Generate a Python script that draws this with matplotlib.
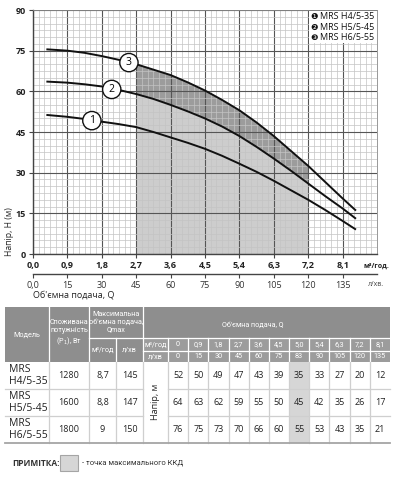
import numpy as np
import matplotlib
matplotlib.use("Agg")
import matplotlib.pyplot as plt
from matplotlib.patches import Rectangle

plt.rcParams['font.family'] = ['Open Sans', 'DejaVu Sans']

# --- дані кривих ---
q_curve = [0.35, 0.9, 1.35, 1.8, 2.25, 2.7, 3.15, 3.6, 4.05, 4.5, 4.95,
           5.4, 5.85, 6.3, 6.75, 7.2, 7.65, 8.1, 8.45]
h1 = [51.3, 50.6, 49.8, 48.8, 47.9, 46.8, 45.0, 43.0, 41.0, 38.8, 36.2,
      33.3, 30.3, 27.0, 23.5, 20.0, 16.2, 12.2, 9.0]
h2 = [63.6, 63.2, 62.6, 61.8, 60.5, 59.0, 57.2, 55.0, 52.6, 50.0, 47.0,
      43.5, 39.5, 35.2, 30.7, 26.0, 21.3, 16.8, 13.0]
h3 = [75.5, 75.0, 74.2, 73.0, 71.6, 70.0, 68.0, 66.0, 63.3, 60.3, 56.8,
      53.0, 48.5, 43.5, 38.0, 32.5, 26.5, 20.5, 16.0]

# позиції номерів на кривих
label_q = [1.54, 2.06, 2.51]
label_h = [49.2, 60.7, 70.6]

legend_names = ["MRS H4/5-35", "MRS H5/5-45", "MRS H6/5-55"]
legend_marks = ["\u2776", "\u2777", "\u2778"]

x_ticks = [0, 0.9, 1.8, 2.7, 3.6, 4.5, 5.4, 6.3, 7.2, 8.1]
x_ticklabels = ["0,0", "0,9", "1,8", "2,7", "3,6", "4,5", "5,4", "6,3", "7,2", "8,1"]
l_ticks = [0, 15, 30, 45, 60, 75, 90, 105, 120, 135]
l_ticklabels = ["0,0", "15", "30", "45", "60", "75", "90", "105", "120", "135"]
y_ticks = [0, 15, 30, 45, 60, 75, 90]

# --- дані таблиці ---
models = ["MRS\nH4/5-35", "MRS\nH5/5-45", "MRS\nH6/5-55"]
power = ["1280", "1600", "1800"]
qmax_m3 = ["8,7", "8,8", "9"]
qmax_l = ["145", "147", "150"]
q_m3 = ["0", "0,9", "1,8", "2,7", "3,6", "4,5", "5,0", "5,4", "6,3", "7,2", "8,1"]
q_l = ["0", "15", "30", "45", "60", "75", "83", "90", "105", "120", "135"]
head_values = [
    [52, 50, 49, 47, 43, 39, 35, 33, 27, 20, 12],
    [64, 63, 62, 59, 55, 50, 45, 42, 35, 26, 17],
    [76, 75, 73, 70, 66, 60, 55, 53, 43, 35, 21],
]
best_col = 6

W, H = 400, 480
fig = plt.figure(figsize=(W / 100, H / 100), dpi=100)

# --- графік ---
ax = fig.add_axes([33 / W, 1 - 254 / H, 344 / W, 244 / H])
ax.set_xlim(0, 9.0)
ax.set_ylim(0, 90)
ax.set_axisbelow(True)

q = np.array(q_curve)
a1, a2, a3 = np.array(h1), np.array(h2), np.array(h3)
zone = (q >= 2.7) & (q <= 7.2)
ax.fill_between(q[zone], 0, a3[zone], color='#cdcdcd', lw=0, zorder=0.2)
ax.fill_between(q[zone], a2[zone], a3[zone], color='#9c9c9c', lw=0, zorder=0.25)

for hh in (a1, a2, a3):
    ax.plot(q, hh, color='#111111', lw=1.4, zorder=2, solid_capstyle='butt')

for i in range(3):
    ax.text(label_q[i], label_h[i], str(i + 1), ha='center', va='center',
            fontsize=7.5, zorder=4,
            bbox=dict(boxstyle='circle,pad=0.35', fc='white', ec='#111111', lw=1.0))

ax.set_xticks(x_ticks)
ax.set_xticklabels(x_ticklabels, fontsize=6.5, fontweight='bold', color='#222222')
ax.set_xticks(np.arange(0, 9.01, 0.15), minor=True)
ax.set_yticks(y_ticks)
ax.set_yticklabels([str(v) for v in y_ticks], fontsize=6.5, fontweight='bold', color='#222222')
ax.set_yticks(np.arange(0, 90.1, 2.5), minor=True)
ax.grid(which='minor', color='#c4c4c4', lw=0.5)
ax.grid(which='major', color='#555555', lw=0.8)
ax.tick_params(which='minor', length=0)
ax.tick_params(which='major', length=3, width=0.8, color='#444444', pad=2)
for s in ('top', 'right'):
    ax.spines[s].set_color('#888888')
    ax.spines[s].set_linewidth(0.6)
for s in ('left', 'bottom'):
    ax.spines[s].set_color('#444444')
    ax.spines[s].set_linewidth(1.0)

sec = ax.secondary_xaxis(-20 / 244, functions=(lambda v: v * 1000 / 60,
                                               lambda v: v * 60 / 1000))
sec.set_xticks(l_ticks)
sec.set_xticklabels(l_ticklabels, fontsize=6.5, color='#333333')
sec.tick_params(length=3, width=0.8, color='#444444', pad=2)
sec.spines['bottom'].set_color('#444444')
sec.spines['bottom'].set_linewidth(1.0)

# полотно для таблиці та підписів у пікселях (поверх графіка)
tax = fig.add_axes([0, 0, 1, 1])
tax.set_xlim(0, W)
tax.set_ylim(H, 0)
tax.axis('off')

# легенда
tax.add_patch(Rectangle((309, 11), 68, 32, fc='white', ec='none', zorder=3))
for i in range(3):
    y = 16.5 + i * 10.5
    tax.text(314, y, legend_marks[i], fontsize=6, ha='center', va='center',
             family=['DejaVu Sans'], color='#111111', zorder=5)
    tax.text(320, y, legend_names[i], fontsize=6.5, ha='left', va='center',
             color='#111111', zorder=5)

tax.text(376, 266, "м³/год.", fontsize=5, fontweight='bold', ha='center', va='center', color='#222222')
tax.text(376, 285, "л/хв.", fontsize=5, ha='center', va='center', color='#444444')
tax.text(33, 295, "Об'ємна подача, Q", fontsize=6.5, ha='left', va='center', color='#222222')
tax.text(10, 232, "Напір, Н (м)", fontsize=6.2, ha='center', va='center', rotation=90, color='#222222')

# --- таблиця ---
narrow = ['Roboto', 'DejaVu Sans']
head_dark = '#8e8e8e'
head_light = '#9c9c9c'
x0, x1 = 5, 390
cols = [5, 49, 89, 116, 143, 168]
vw = (x1 - 168) / 11
vcols = [168 + k * vw for k in range(12)]
y_top, y_mid, y_sub, y_hb = 307, 338, 351, 362
rows = [362, 389, 416, 443]

tax.add_patch(Rectangle((x0, y_top), x1 - x0, y_hb - y_top, fc=head_dark, ec='none'))
tax.add_patch(Rectangle((143, y_mid), x1 - 143, y_hb - y_mid, fc=head_light, ec='none'))
wl = dict(color='white', lw=0.9)
for xc in (49, 89, 143):
    tax.plot([xc, xc], [y_top, y_hb], **wl)
tax.plot([116, 116], [y_mid, y_hb], **wl)
for xc in vcols[:-1]:
    tax.plot([xc, xc], [y_mid, y_hb], **wl)
tax.plot([89, x1], [y_mid, y_mid], **wl)
tax.plot([143, x1], [y_sub, y_sub], **wl)

ht = dict(color='white', ha='center', va='center', family=narrow, fontsize=5.2)
tax.text(27, 335, "Модель", **ht)
tax.text(69, 333, "Споживана\nпотужність\n(P$_1$), Вт", linespacing=1.2, **ht)
tax.text(116, 322, "Максимальна\nоб'ємна подача,\nQmax", linespacing=1.2, **ht)
tax.text(102.5, 350, "м³/год", **ht)
tax.text(129.5, 350, "л/хв", **ht)
tax.text(253, 325, "Об'ємна подача, Q", **ht)
tax.text(155.5, 345, "м³/год", **ht)
tax.text(155.5, 357, "л/хв", **ht)
for k in range(11):
    xc = (vcols[k] + vcols[k + 1]) / 2
    tax.text(xc, 345, q_m3[k], **ht)
    tax.text(xc, 357, q_l[k], **ht)

# виділена колонка
tax.add_patch(Rectangle((vcols[best_col], rows[0]), vw, rows[-1] - rows[0],
                        fc='#d6d6d6', ec='none'))

gl = dict(color='#cfcfcf', lw=0.9)
for xc in cols[1:] + vcols[1:-1]:
    tax.plot([xc, xc], [rows[0], rows[-1]], **gl)
for yr in rows[1:-1]:
    tax.plot([x0, 143], [yr, yr], **gl)
    tax.plot([168, x1], [yr, yr], **gl)
tax.plot([x0, x1], [rows[-1], rows[-1]], color='#a5a5a5', lw=1.3)

tax.text(155.5, 402, "Напір, м", rotation=90, ha='center', va='center',
         fontsize=6.5, color='#222222')

for r in range(3):
    yc = (rows[r] + rows[r + 1]) / 2
    tax.text(9, yc, models[r], ha='left', va='center', fontsize=7.5,
             color='#222222', linespacing=1.1)
    tax.text(69, yc, power[r], ha='center', va='center', fontsize=6.5, color='#222222')
    tax.text(102.5, yc, qmax_m3[r], ha='center', va='center', fontsize=6.5, color='#222222')
    tax.text(129.5, yc, qmax_l[r], ha='center', va='center', fontsize=6.5, color='#222222')
    for k in range(11):
        xc = (vcols[k] + vcols[k + 1]) / 2
        tax.text(xc, yc, str(head_values[r][k]), ha='center', va='center',
                 fontsize=6.5, color='#222222')

# примітка
tax.text(12, 463, "ПРИМІТКА:", fontsize=6, fontweight='bold', ha='left', va='center', color='#333333')
tax.add_patch(Rectangle((60, 455), 18, 16, fc='#d6d6d6', ec='#a5a5a5', lw=0.8))
tax.text(82, 463, "- точка максимального ККД", fontsize=5.5, ha='left', va='center',
         family=narrow, color='#333333')

fig.savefig("out.png", dpi=100)
